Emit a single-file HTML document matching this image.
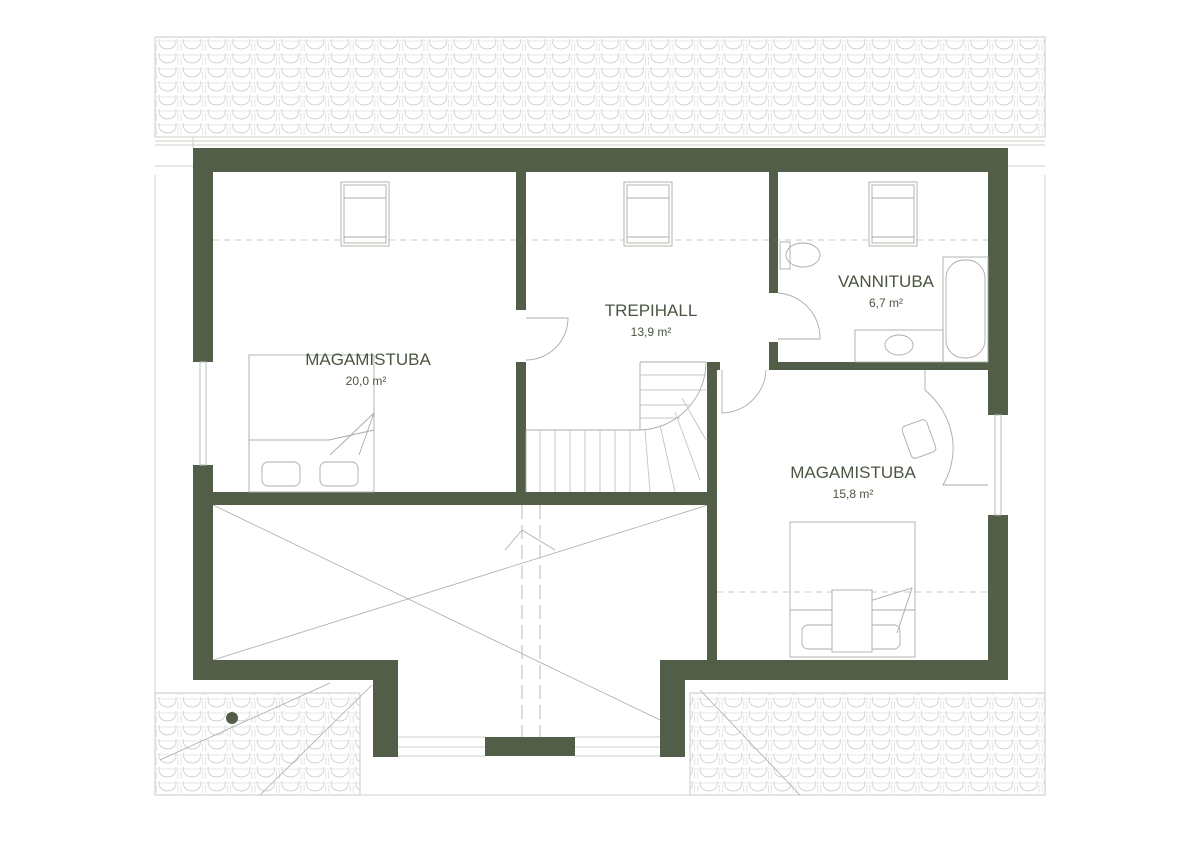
<!DOCTYPE html>
<html><head><meta charset="utf-8"><style>
html,body{margin:0;padding:0;background:#fff;}
svg{display:block;}
text{font-family:"Liberation Sans",sans-serif;fill:#4b5641;text-anchor:middle;}
</style></head><body>
<svg width="1191" height="842" viewBox="0 0 1191 842" xmlns="http://www.w3.org/2000/svg">
<defs>
<pattern id="tile" x="155" y="37" width="24.6" height="14" patternUnits="userSpaceOnUse">
<rect width="24.6" height="14" fill="#fff"/>
<path d="M4 2 v3 a8.5 7 0 0 0 17 0 v-3" fill="none" stroke="#c3c6be" stroke-width="0.7"/>
<path d="M0 4 h24.6" stroke="#e0e2dc" stroke-width="0.7"/>
<path d="M1.5 6 v8 M23 6 v8" stroke="#d2d5ce" stroke-width="0.6"/>
</pattern>
</defs>
<rect x="155" y="37" width="890" height="100" fill="url(#tile)" stroke="#c8cbc4"/>
<g stroke="#ccd0c8" stroke-width="1" fill="none">
<line x1="155" y1="137" x2="1045" y2="137"/><line x1="155" y1="141" x2="1045" y2="141"/><line x1="155" y1="145" x2="1045" y2="145"/>
<line x1="193" y1="137" x2="193" y2="148"/>
<line x1="155" y1="166" x2="193" y2="166"/><line x1="1008" y1="166" x2="1045" y2="166"/>
<line x1="155" y1="175" x2="155" y2="795"/><line x1="1045" y1="175" x2="1045" y2="795"/>
<line x1="155" y1="795" x2="1045" y2="795"/>
<line x1="398" y1="737" x2="485" y2="737"/><line x1="398" y1="756" x2="485" y2="756"/>
<line x1="575" y1="737" x2="660" y2="737"/><line x1="575" y1="756" x2="660" y2="756"/>
<line x1="398" y1="747" x2="485" y2="747"/><line x1="575" y1="747" x2="660" y2="747"/>
</g>
<rect x="155" y="693" width="205" height="102" fill="url(#tile)" stroke="#c8cbc4"/>
<rect x="690" y="693" width="355" height="102" fill="url(#tile)" stroke="#c8cbc4"/>
<g stroke="#a9ada4" stroke-width="0.8" fill="none">
<line x1="260" y1="795" x2="372" y2="685"/>
<line x1="700" y1="690" x2="800" y2="795"/>
<line x1="160" y1="760" x2="330" y2="683"/>
<line x1="213" y1="505" x2="660" y2="720"/>
<line x1="213" y1="660" x2="708" y2="505"/>
<line x1="522" y1="505" x2="522" y2="737" stroke-dasharray="14 6"/>
<line x1="540" y1="505" x2="540" y2="737" stroke-dasharray="14 6"/>
<path d="M505 550 L522 530 L555 550"/>
</g>
<circle cx="232" cy="718" r="6" fill="#525e48"/>
<g stroke="#c8cbc4" stroke-dasharray="6 5" fill="none">
<line x1="213" y1="240" x2="990" y2="240"/>
<line x1="717" y1="592" x2="990" y2="592"/>
</g>
<g fill="#525e48">
<rect x="193" y="148" width="815" height="24"/>
<rect x="193" y="148" width="20" height="214"/>
<rect x="193" y="465" width="20" height="215"/>
<rect x="193" y="660" width="205" height="20"/>
<rect x="373" y="660" width="25" height="97"/>
<rect x="988" y="148" width="20" height="267"/>
<rect x="988" y="515" width="20" height="165"/>
<rect x="660" y="660" width="348" height="20"/>
<rect x="660" y="660" width="25" height="97"/>
<rect x="485" y="737" width="90" height="19"/>
<rect x="516" y="172" width="10" height="138"/>
<rect x="516" y="362" width="10" height="143"/>
<rect x="213" y="492" width="504" height="13"/>
<rect x="707" y="362" width="10" height="298"/>
<rect x="707" y="362" width="13" height="8"/>
<rect x="769" y="172" width="9" height="121"/>
<rect x="769" y="342" width="9" height="28"/>
<rect x="769" y="362" width="219" height="8"/>
</g>
<g stroke="#b9bdb4" fill="none">
<rect x="200" y="362" width="6" height="103"/>
<rect x="995" y="415" width="6" height="100"/>
</g>
<g stroke="#a9ada4" fill="#fff" stroke-width="0.9">
<rect x="341" y="182" width="48" height="64"/><rect x="344" y="185" width="42" height="58"/><line x1="344" y1="198" x2="386" y2="198"/><line x1="344" y1="237" x2="386" y2="237"/>
<rect x="624" y="182" width="48" height="64"/><rect x="627" y="185" width="42" height="58"/><line x1="627" y1="198" x2="669" y2="198"/><line x1="627" y1="237" x2="669" y2="237"/>
<rect x="869" y="182" width="48" height="64"/><rect x="872" y="185" width="42" height="58"/><line x1="872" y1="198" x2="914" y2="198"/><line x1="872" y1="237" x2="914" y2="237"/>
</g>
<g stroke="#a9ada4" fill="none" stroke-width="0.9">
<path d="M526 318 h42 a42 42 0 0 1 -42 42"/>
<path d="M778 293 a45 45 0 0 1 42 46 h-42"/>
<path d="M722 370 v43 a45 45 0 0 0 44 -43"/>
<path d="M640 362 h66 M640 362 v68 M526 430 h114 a68 68 0 0 0 66 -68"/>
<path d="M526 492 v-62"/>
<g stroke="#c3c6be">
<line x1="540" y1="430" x2="540" y2="492"/><line x1="555" y1="430" x2="555" y2="492"/><line x1="570" y1="430" x2="570" y2="492"/><line x1="585" y1="430" x2="585" y2="492"/><line x1="600" y1="430" x2="600" y2="492"/><line x1="615" y1="430" x2="615" y2="492"/><line x1="630" y1="430" x2="630" y2="492"/><line x1="645" y1="430" x2="650" y2="492"/><line x1="660" y1="425" x2="675" y2="492"/><line x1="675" y1="412" x2="700" y2="480"/><line x1="682" y1="398" x2="706" y2="440"/>
<line x1="640" y1="375" x2="706" y2="375"/><line x1="640" y1="390" x2="706" y2="390"/><line x1="640" y1="405" x2="690" y2="405"/><line x1="640" y1="418" x2="680" y2="418"/>
</g>
<rect x="249" y="355" width="125" height="137"/>
<path d="M249 440 h80 l45 -10 M330 455 l44 -42 l-15 42"/>
<rect x="262" y="462" width="38" height="24" rx="6"/><rect x="320" y="462" width="38" height="24" rx="6"/>
<rect x="790" y="522" width="125" height="135"/>
<path d="M790 610 h125 M840 610 l72 -22 l-15 45"/>
<rect x="802" y="625" width="38" height="24" rx="6"/><rect x="862" y="625" width="38" height="24" rx="6"/>
<rect x="832" y="590" width="40" height="62" fill="#fff"/>
<path d="M925 370 v20 a90 80 0 0 1 18 95 h45"/>
<rect x="906" y="422" width="26" height="34" rx="4" transform="rotate(-20 919 439)"/>
<rect x="943" y="257" width="45" height="105"/>
<rect x="946" y="260" width="39" height="98" rx="18"/>
<rect x="855" y="330" width="88" height="32"/>
<ellipse cx="899" cy="345" rx="14" ry="10"/>
<rect x="780" y="242" width="10" height="27"/>
<ellipse cx="803" cy="255" rx="17" ry="12"/>
</g>
<text x="368" y="365" font-size="17">MAGAMISTUBA</text>
<text x="366" y="385" font-size="12">20,0 m²</text>
<text x="651" y="316" font-size="17">TREPIHALL</text>
<text x="651" y="336" font-size="12">13,9 m²</text>
<text x="886" y="287" font-size="17">VANNITUBA</text>
<text x="886" y="307" font-size="12">6,7 m²</text>
<text x="853" y="478" font-size="17">MAGAMISTUBA</text>
<text x="853" y="498" font-size="12">15,8 m²</text>
</svg>
</body></html>
